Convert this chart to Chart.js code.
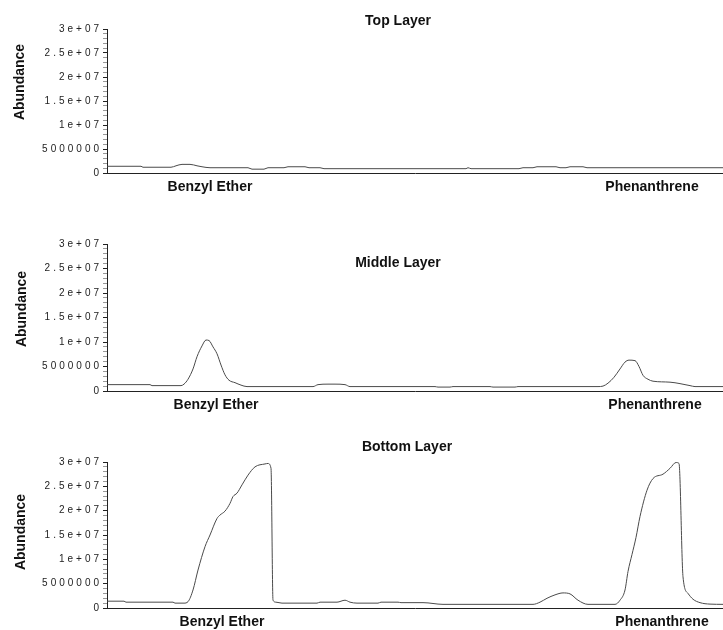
<!DOCTYPE html>
<html>
<head>
<meta charset="utf-8">
<title>Abundance by layer</title>
<script src="https://cdn.jsdelivr.net/npm/chart.js@4.4.1/dist/chart.umd.min.js"></script>
<style>
  body { margin: 0; background: #fff; width: 723px; height: 630px; overflow: hidden; position: relative; }
  canvas { position: absolute; left: 0; }
</style>
</head>
<body>
<canvas id="top-chart" width="723" height="205" style="top:0"></canvas>
<canvas id="middle-chart" width="723" height="215" style="top:205px"></canvas>
<canvas id="bottom-chart" width="723" height="210" style="top:420px"></canvas>
<script>
// scan = position along the run, abundance in millions
const topScan = [0, 34, 36, 64, 69, 75, 83, 90, 95, 103, 141, 145, 157, 161, 177, 181, 198, 202, 213, 217, 359, 361, 364, 412, 416, 426, 430, 449, 453, 459, 463, 476, 480, 616];
const topAbund = [1.4, 1.4, 1.2, 1.2, 1.5, 1.8, 1.8, 1.5, 1.3, 1.1, 1.1, 0.8, 0.8, 1.1, 1.1, 1.3, 1.3, 1.1, 1.1, 0.9, 0.9, 1.1, 0.9, 0.9, 1.1, 1.1, 1.3, 1.3, 1.1, 1.1, 1.3, 1.3, 1.1, 1.1];

const middleScan = [0, 43, 45, 74, 77, 81, 86, 90, 95, 99, 102, 106, 110, 114, 118, 122, 128, 134, 140, 206, 211, 221, 228, 238, 243, 328, 331, 343, 346, 383, 386, 408, 411, 491, 496, 501, 507, 513, 518, 522, 528, 532, 536, 541, 546, 563, 583, 588, 616];
const middleAbund = [1.3, 1.3, 1.1, 1.1, 1.4, 2.4, 4.5, 7.0, 9.2, 10.4, 10.3, 9.0, 7.6, 5.3, 3.3, 2.2, 1.7, 1.2, 0.9, 0.9, 1.3, 1.4, 1.4, 1.3, 0.9, 0.9, 0.8, 0.8, 0.9, 0.9, 0.8, 0.8, 0.9, 0.9, 1.0, 1.6, 2.8, 4.5, 5.9, 6.3, 6.2, 5.0, 3.2, 2.4, 2.0, 1.8, 1.1, 0.9, 0.9];

const bottomScan = [0, 17, 19, 66, 68, 77, 81, 86, 91, 98, 103, 110, 113, 118, 123, 126, 130, 135, 141, 148, 158, 161, 164, 166, 169, 175, 210, 213, 230, 238, 243, 250, 271, 274, 291, 294, 316, 336, 426, 433, 440, 448, 456, 463, 471, 481, 508, 513, 518, 521, 525, 529, 533, 540, 546, 556, 563, 569, 572, 576, 581, 586, 593, 603, 616];
const bottomAbund = [1.4, 1.4, 1.2, 1.2, 1.0, 1.0, 1.3, 3.7, 7.8, 12.6, 15.0, 18.4, 19.1, 19.9, 21.5, 22.9, 23.6, 25.3, 27.3, 29.0, 29.6, 29.7, 28.7, 1.6, 1.2, 1.0, 1.0, 1.2, 1.2, 1.6, 1.2, 1.0, 1.0, 1.2, 1.2, 1.1, 1.1, 0.75, 0.75, 1.2, 2.0, 2.7, 3.1, 2.9, 1.6, 0.75, 0.75, 1.6, 3.7, 7.5, 11.0, 14.5, 18.8, 24.2, 26.6, 27.5, 28.7, 29.9, 29.7, 6.4, 3.0, 1.8, 1.1, 0.8, 0.75];

// where each compound label sits along the scan axis
const compoundNames = ["Benzyl Ether", "Phenanthrene"];
const topMarks = [103, 545];
const middleMarks = [109, 548];
const bottomMarks = [115, 555];

const yTickLabels = ["0", "5000000", "1e+07", "1.5e+07", "2e+07", "2.5e+07", "3e+07"];

const FONT = "'Liberation Sans', Arial, sans-serif";

// panel title + rotated y label, and wide tracking for the y tick numbers
const panelText = {
    id: 'panelText',
    beforeDraw(chart) {
        chart.ctx.letterSpacing = '3px';
    },
    afterDatasetsDraw(chart) {
        chart.ctx.letterSpacing = '0px';
    },
    afterDraw(chart, args, opts) {
        const ctx = chart.ctx;
        ctx.save();
        ctx.fillStyle = '#111';
        ctx.font = 'bold 14px ' + FONT;
        ctx.textAlign = 'center';
        ctx.textBaseline = 'middle';
        ctx.fillText(opts.title, opts.titleX, opts.titleY);
        ctx.translate(opts.labelX, opts.labelY);
        ctx.rotate(-Math.PI / 2);
        ctx.fillText('Abundance', 0, 0);
        ctx.restore();
    }
};

function makePanel(canvasId, scans, values, marks, text, axisHeight) {
    const points = scans.map((s, i) => ({ x: s, y: values[i] }));
    return new Chart(document.getElementById(canvasId), {
        type: 'line',
        data: {
            datasets: [{
                data: points,
                borderColor: '#4a4a4a',
                borderWidth: 1,
                pointRadius: 0,
                cubicInterpolationMode: 'monotone',
                fill: false
            }]
        },
        options: {
            responsive: false,
            animation: false,
            events: [],
            layout: { padding: { top: text.top, left: 0, right: 0, bottom: 0 } },
            plugins: {
                legend: { display: false },
                tooltip: { enabled: false },
                panelText: text
            },
            scales: {
                x: {
                    type: 'linear',
                    min: 0,
                    max: 616,
                    grid: { display: false, drawTicks: false },
                    border: { display: true, color: '#222', width: 1 },
                    afterBuildTicks: axis => { axis.ticks = marks.map(v => ({ value: v })); },
                    afterFit: axis => { axis.height = axisHeight; },
                    ticks: {
                        z: 1,
                        padding: 6,
                        maxRotation: 0,
                        autoSkip: false,
                        color: '#111',
                        font: { family: FONT, size: 14, weight: 'bold' },
                        callback: (v, i) => compoundNames[i]
                    }
                },
                y: {
                    min: 0,
                    max: 30,
                    afterFit: axis => { axis.width = 107; },
                    grid: {
                        drawOnChartArea: false,
                        drawTicks: true,
                        tickLength: 4,
                        tickColor: c => (c.tick && c.tick.value % 5 === 0) ? '#222' : '#999'
                    },
                    border: { display: true, color: '#222', width: 1 },
                    ticks: {
                        stepSize: 1,
                        autoSkip: false,
                        padding: 1,
                        color: '#222',
                        font: { family: FONT, size: 10 },
                        callback: v => v % 5 === 0 ? yTickLabels[v / 5] : ''
                    }
                }
            }
        },
        plugins: [panelText]
    });
}

makePanel('top-chart', topScan, topAbund, topMarks,
    { title: 'Top Layer', titleX: 398, titleY: 21, labelX: 20, labelY: 82, top: 29 }, 32);
makePanel('middle-chart', middleScan, middleAbund, middleMarks,
    { title: 'Middle Layer', titleX: 398, titleY: 58, labelX: 22, labelY: 104, top: 39 }, 29);
makePanel('bottom-chart', bottomScan, bottomAbund, bottomMarks,
    { title: 'Bottom Layer', titleX: 407, titleY: 27, labelX: 21, labelY: 112, top: 42 }, 22);
</script>
</body>
</html>
